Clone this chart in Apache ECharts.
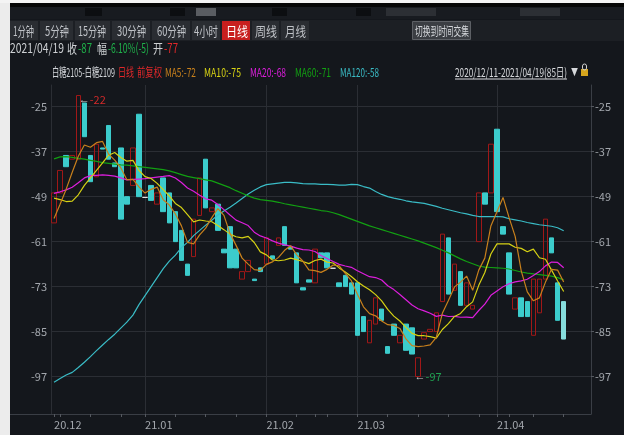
<!DOCTYPE html>
<html><head><meta charset="utf-8">
<script src="https://cdn.jsdelivr.net/npm/echarts@6/dist/echarts.min.js"></script>
<style>html,body{margin:0;padding:0;background:#14171c;}#c{width:624px;height:435px;}</style>
</head><body><div id="c"></div><script>
const dates = ['2020-12-11','2020-12-14','2020-12-15','2020-12-16','2020-12-17','2020-12-18','2020-12-21','2020-12-22','2020-12-23','2020-12-24','2020-12-25','2020-12-28','2020-12-29','2020-12-30','2020-12-31',
'2021-01-04','2021-01-05','2021-01-06','2021-01-07','2021-01-08','2021-01-11','2021-01-12','2021-01-13','2021-01-14','2021-01-15','2021-01-18','2021-01-19','2021-01-20','2021-01-21','2021-01-22','2021-01-25','2021-01-26','2021-01-27','2021-01-28','2021-01-29',
'2021-02-01','2021-02-02','2021-02-03','2021-02-04','2021-02-05','2021-02-08','2021-02-09','2021-02-10','2021-02-18','2021-02-19','2021-02-22','2021-02-23','2021-02-24','2021-02-25','2021-02-26',
'2021-03-01','2021-03-02','2021-03-03','2021-03-04','2021-03-05','2021-03-08','2021-03-09','2021-03-10','2021-03-11','2021-03-12','2021-03-15','2021-03-16','2021-03-17','2021-03-18','2021-03-19','2021-03-22','2021-03-23','2021-03-24','2021-03-25','2021-03-26','2021-03-29','2021-03-30','2021-03-31',
'2021-04-01','2021-04-02','2021-04-06','2021-04-07','2021-04-08','2021-04-09','2021-04-12','2021-04-13','2021-04-14','2021-04-15','2021-04-16','2021-04-19'];
const opens = [-56,-48,-38,-39,-39,-24,-38,-43.7,-36,-30,-40,-36,-49,-46,-27,-49.2,-46,-51,-44,-48,-53,-58,-67,-65,-54,-39,-53,-51,-63,-57,-63,-71,-69,-71,-68,-67,-64.8,-62,-57,-62.5,-64,-73.3,-71.2,-72,-64,-64,-68.1,-72,-70,-72,-72,-81,-88,-83,-79,-89,-83,-88,-83,-84,-97,-87,-85,-85,-77,-60,-74,-69,-78,-79,-61,-48,-48,-31,-57,-64,-79,-76,-77,-86,-80,-71,-60,-72,-77];
const closes = [-48,-42,-41,-38,-22,-33,-45,-35,-36.3,-39,-41,-55,-51,-36,-49,-49.2,-50,-48,-53,-56,-61,-66,-70,-55,-44,-52,-52,-58,-64,-68,-68,-69,-66,-71.4,-69,-60,-65.6,-60,-62,-63,-72,-73.9,-71.8,-63,-65.3,-68,-68.1,-73,-73,-75,-86,-85,-82,-76,-82,-90.8,-86,-86,-90,-91,-92,-85.3,-84.4,-80,-59,-75,-67,-78,-72,-78,-48,-51,-35,-53,-59,-75,-76,-81,-81,-71,-71,-55,-64,-82,-87];
const ma5 = [-54.8,-51,-47,-42.5,-38.2,-35.2,-35.8,-34.6,-34.26,-37.66,-39.26,-41.26,-44.46,-44.4,-46.4,-48.04,-47.04,-46.44,-49.84,-51.24,-53.6,-56.8,-61.2,-61.6,-59.2,-57.4,-54.6,-52.2,-54,-58.8,-62,-65.4,-67,-68.48,-68.68,-67.08,-66.4,-65.2,-63.32,-62.12,-64.52,-66.18,-68.54,-68.74,-69.2,-68.4,-67.24,-67.48,-69.48,-71.42,-75.02,-78.4,-80.2,-80.8,-82.2,-83.16,-83.36,-84.16,-86.96,-88.76,-89,-88.86,-88.54,-86.54,-80.14,-76.74,-73.08,-71.8,-70.2,-74,-68.6,-65.4,-56.8,-53,-49.2,-54.6,-59.6,-68.8,-74.4,-76.8,-76,-71.8,-68.4,-68.6,-71.8];
const ma10 = [-49.4,-49.8,-50.3,-50.2,-48.5,-46,-44,-42,-40,-37.93,-37.23,-38.53,-39.53,-39.33,-42.03,-43.65,-44.15,-45.45,-47.12,-48.82,-50.82,-51.92,-53.82,-55.72,-55.22,-55.5,-55.7,-56.7,-57.8,-59,-59.7,-60,-59.6,-61.24,-63.74,-64.54,-65.9,-66.1,-65.9,-65.4,-65.8,-66.29,-66.87,-66.03,-65.66,-66.46,-66.71,-68.01,-69.11,-70.31,-71.71,-72.82,-73.84,-75.14,-76.81,-79.09,-80.88,-82.18,-83.88,-85.48,-86.08,-86.11,-86.35,-86.75,-84.45,-82.87,-80.97,-80.17,-78.37,-77.07,-72.67,-69.24,-64.3,-61.6,-61.6,-61.6,-62.5,-62.8,-63.7,-63,-65.3,-65.7,-68.6,-71.5,-74.3];
const ma20 = [-48.1,-47.7,-47.2,-46.5,-45.3,-44,-43.4,-43.3,-43.2,-43.3,-43.5,-44,-44.5,-44.4,-44.3,-44.2,-44,-43.8,-43.6,-43.38,-44.03,-45.23,-46.68,-47.53,-48.63,-49.58,-49.93,-51.08,-52.46,-53.91,-55.26,-55.96,-56.71,-58.48,-59.48,-60.02,-60.8,-61.4,-61.85,-62.2,-62.75,-63.15,-63.24,-63.64,-64.7,-65.5,-66.31,-67.06,-67.51,-67.86,-68.76,-69.56,-70.36,-70.59,-71.24,-72.78,-73.8,-75.1,-76.5,-77.9,-78.9,-79.47,-80.1,-80.95,-80.63,-80.98,-80.93,-81.18,-81.13,-81.28,-79.38,-77.68,-75.33,-74.18,-73.03,-72.24,-71.74,-71.49,-71.04,-70.04,-68.99,-67.47,-66.45,-66.55,-67.95];
const ma60 = [-38.9,-38.4,-38.3,-38.5,-38.8,-39.0,-39.3,-39.6,-39.9,-40.1,-40.3,-40.5,-40.6,-40.8,-41.0,-41.2,-41.4,-41.6,-41.8,-42.1,-42.6,-43.1,-43.6,-43.9,-44.2,-44.5,-44.8,-45.4,-46.0,-46.6,-47.4,-48.1,-48.8,-49.4,-49.8,-50.0,-50.2,-50.5,-50.9,-51.2,-51.5,-51.8,-52.1,-52.4,-52.7,-52.9,-53.3,-53.8,-54.4,-55.0,-55.6,-56.2,-56.8,-57.3,-57.8,-58.3,-58.8,-59.3,-59.8,-60.3,-60.8,-61.4,-62.0,-62.6,-63.3,-64.0,-64.8,-65.6,-66.3,-66.9,-67.5,-67.8,-67.9,-68.0,-68.1,-68.3,-68.7,-69.1,-69.4,-69.6,-69.8,-70.0,-70.2,-70.6,-71.2];
const ma120 = [-98.5,-97.5,-96.6,-95.9,-94.6,-93.2,-91.7,-90.1,-88.6,-87.1,-85.7,-84.1,-82.5,-80.6,-77.8,-75.4,-73.0,-70.6,-68.2,-66.2,-64.6,-62.6,-61.2,-59.4,-58.0,-56.6,-55.3,-53.9,-52.8,-51.8,-50.7,-49.5,-48.3,-47.3,-46.4,-45.8,-45.6,-45.4,-45.2,-45.2,-45.3,-45.5,-45.6,-45.6,-45.7,-45.7,-45.8,-45.9,-45.9,-45.7,-45.8,-46.3,-46.7,-47.6,-48.4,-49.0,-49.4,-49.7,-50.1,-50.4,-50.6,-50.8,-51.2,-51.6,-52.1,-52.5,-52.9,-53.3,-53.6,-54.0,-54.3,-54.3,-54.3,-54.3,-54.4,-54.9,-55.2,-55.5,-55.9,-56.2,-56.5,-56.7,-56.9,-57.3,-58.1];
const yTicks = [-97,-85,-73,-61,-49,-37,-25];
const monthIdx = [0,15,35,50,73];
const monthText = ['20.12','21.01','21.02','21.03','21.04'];
const weekIdx = [1,6,11,20,25,30,40,43,45,55,60,65,70,75,79,84];
const toolbarItems = ['1分钟','5分钟','15分钟','30分钟','60分钟','4小时','日线','周线','月线'];
const legendItems = [['MA5:-72','#c8801c'],['MA10:-75','#d6d214'],['MA20:-68','#dc1edc'],['MA60:-71','#12a012'],['MA120:-58','#3abcc6']];

const FONT = '"Noto Sans CJK SC","Noto Sans",sans-serif';
const last = closes.length - 1;
const candleData = opens.map((o, i) => {
  const c = closes[i];
  const item = { value: [o, c, Math.min(o, c), Math.max(o, c)] };
  if (i === last) item.itemStyle = { color: '#86dcdc', borderColor: '#86dcdc', color0: '#86dcdc', borderColor0: '#86dcdc' };
  return item;
});
let hiI = 0, loI = 0;
closes.forEach((c, i) => {
  if (Math.max(c, opens[i]) > Math.max(closes[hiI], opens[hiI])) hiI = i;
  if (Math.min(c, opens[i]) < Math.min(closes[loI], opens[loI])) loI = i;
});
const hiV = Math.max(opens[hiI], closes[hiI]);
const loV = Math.min(opens[loI], closes[loI]);

// ---------- decorations (header) ----------
const G = [];
const mctx = document.createElement('canvas').getContext('2d');
function rect(x, y, w, h, fill, stroke) {
  G.push({ type: 'rect', silent: true, z: 1, shape: { x, y, width: w, height: h }, style: { fill, stroke: stroke || null, lineWidth: 1 } });
}
// text squeezed horizontally to span x1..x2 (the source UI uses a condensed face)
function fitTxt(s, x1, x2, y, fill, size) {
  const font = size + 'px ' + FONT;
  mctx.font = font;
  const w = mctx.measureText(s).width || 1;
  const sx = Math.min(1.1, (x2 - x1) / w);
  G.push({ type: 'text', silent: true, z: 2, x: x1, y, scaleX: sx, style: { text: s, fill, font, textAlign: 'left', textVerticalAlign: 'middle', align: 'left', verticalAlign: 'middle' } });
}
rect(0, 0, 10, 435, '#ececec');
rect(0, 0, 624, 3, '#f4f4f4');
rect(10, 3, 614, 4, '#060606');
rect(10, 7, 614, 12, '#181b20');
rect(85, 8, 17, 8, '#0c0e11'); rect(170, 8, 15, 8, '#0c0e11'); rect(272, 8, 15, 8, '#0c0e11'); rect(356, 8, 15, 8, '#0c0e11');
rect(196, 8, 20, 8, '#5a5d62'); rect(386, 8, 50, 8, '#2c2f34'); rect(520, 8, 40, 8, '#2c2f34');
rect(10, 20, 614, 21, '#1c1f24');
const btnBox = [[10, 38], [40, 73], [75, 110], [112, 150], [152, 190], [192, 220], [222, 250], [252, 279], [281, 309]];
const btnTxt = [[13, 34], [45, 69], [78, 106], [117, 146], [157, 186], [194, 218], [226, 248], [255, 277], [285, 306]];
toolbarItems.forEach((t, i) => {
  const [b1, b2] = btnBox[i];
  rect(b1, 21, b2 - b1, 19, t === '日线' ? '#c81f1e' : '#2a2d32');
  fitTxt(t, btnTxt[i][0], btnTxt[i][1], 31, t === '日线' ? '#ffffff' : '#bfc2c7', 13);
});
rect(412.5, 21.5, 58, 18, '#3b3e43', '#5d6065');
fitTxt('切换到时间交集', 415, 469, 31, '#d2d5d9', 12.5);
// info line
fitTxt('2021/04/19', 10, 64, 48, '#cdd0d3', 13);
fitTxt('收', 67, 77, 48, '#cdd0d3', 13);
fitTxt('-87', 78, 92, 48, '#1fb04a', 13);
fitTxt('幅', 97, 107, 48, '#cdd0d3', 13);
fitTxt('-6.10%(-5)', 108, 149, 48, '#1fb04a', 13);
fitTxt('开', 153, 163, 48, '#cdd0d3', 13);
fitTxt('-77', 164, 178, 48, '#e0282a', 13);
// legend line
fitTxt('白糖2105-白糖2109', 52, 115, 72, '#d2d5d9', 12);
fitTxt('日线', 118, 134, 72, '#e0282a', 12);
fitTxt('前复权', 137, 162, 72, '#e0282a', 12);
const legSpan = [[165, 196], [204, 241], [250, 286], [295, 331], [340, 379]];
legendItems.forEach(([t, c], i) => fitTxt(t, legSpan[i][0], legSpan[i][1], 72, c, 12));
fitTxt('2020/12/11-2021/04/19(85日)', 455, 567, 72, '#d6d8db', 12);
G.push({ type: 'line', silent: true, z: 2, shape: { x1: 455, y1: 79, x2: 567, y2: 79 }, style: { stroke: '#d6d8db', lineWidth: 1 } });
fitTxt('▼', 571, 578, 72, '#d6d8db', 10);
rect(581, 69, 7, 7, '#d6a51c');
G.push({ type: 'rect', silent: true, z: 2, shape: { x: 582.5, y: 64, width: 4, height: 6, r: 2 }, style: { fill: null, stroke: '#cfcfcf', lineWidth: 1 } });
G.push({ type: 'line', silent: true, z: 2, shape: { x1: 10, y1: 414.5, x2: 51, y2: 414.5 }, style: { stroke: '#3a3e45', lineWidth: 1 } });

const axisLabelStyle = { color: '#a3a7ad', fontSize: 11, fontFamily: FONT };
const chart = echarts.init(document.getElementById('c'), null, { renderer: 'canvas' });
chart.setOption({
  animation: false,
  backgroundColor: '#14171c',
  graphic: G,
  grid: { left: 51, right: 33, top: 85, bottom: 21, containLabel: false },
  xAxis: {
    type: 'category', data: dates, boundaryGap: true, max: 88,
    axisLine: { show: true, lineStyle: { color: '#3a3e45' } },
    axisTick: { show: true, alignWithLabel: true, length: 3, lineStyle: { color: '#555960' },
      interval: (i) => weekIdx.includes(i) || monthIdx.includes(i) },
    axisLabel: { ...axisLabelStyle, align: 'left', margin: 5, padding: [0, 0, 0, 0],
      interval: (i) => monthIdx.includes(i),
      formatter: (v, i) => { const k = monthIdx.indexOf(i); return k >= 0 ? monthText[k] : ''; } },
    splitLine: { show: true, alignWithLabel: true, lineStyle: { color: '#2b2e34' },
      interval: (i) => monthIdx.includes(i) && i !== 0 }
  },
  yAxis: [
    { type: 'value', position: 'left', min: -107, max: -19.2, scale: true,
      axisLine: { show: true, lineStyle: { color: '#2b2e34' } },
      axisTick: { show: false, customValues: yTicks },
      axisLabel: { ...axisLabelStyle, margin: 4, customValues: yTicks },
      splitLine: { show: true, lineStyle: { color: '#2b2e34' } } },
    { type: 'value', position: 'right', min: -107, max: -19.2, scale: true,
      axisLine: { show: true, lineStyle: { color: '#3a3e45' } },
      axisTick: { show: true, length: 3, customValues: yTicks, lineStyle: { color: '#555960' } },
      axisLabel: { ...axisLabelStyle, margin: 4, customValues: yTicks },
      splitLine: { show: false } }
  ],
  series: [
    { type: 'candlestick', data: candleData, barWidth: 5, z: 2,
      itemStyle: { color: 'rgba(0,0,0,0)', color0: '#3ccccc', borderColor: '#a01818', borderColor0: '#3ccccc', borderColorDoji: '#e6e6e6', borderWidth: 1 },
      markPoint: { symbol: 'circle', symbolSize: 1, silent: true, itemStyle: { color: 'rgba(0,0,0,0)' },
        data: [
          { coord: [dates[hiI], hiV], label: { show: true, position: 'right', offset: [-5, 4], formatter: '{a|←}{b|' + hiV + '}', rich: { a: { color: '#cfcfcf', fontSize: 11 }, b: { color: '#d42a2a', fontSize: 11, fontFamily: FONT } } } },
          { coord: [dates[loI], loV], label: { show: true, position: 'right', offset: [-9, 0], formatter: '{a|←}{b|' + loV + '}', rich: { a: { color: '#cfcfcf', fontSize: 11 }, b: { color: '#1fa050', fontSize: 11, fontFamily: FONT } } } }
        ] } },
    { type: 'line', name: 'MA120', data: ma120, symbol: 'none', z: 3, lineStyle: { width: 1.2, color: '#3abcc6' } },
    { type: 'line', name: 'MA60', data: ma60, symbol: 'none', z: 3, lineStyle: { width: 1.2, color: '#12a012' } },
    { type: 'line', name: 'MA20', data: ma20, symbol: 'none', z: 3, lineStyle: { width: 1.2, color: '#dc1edc' } },
    { type: 'line', name: 'MA10', data: ma10, symbol: 'none', z: 3, lineStyle: { width: 1.2, color: '#d6d214' } },
    { type: 'line', name: 'MA5', data: ma5, symbol: 'none', z: 3, lineStyle: { width: 1.2, color: '#c8801c' } }
  ]
});
</script></body></html>
